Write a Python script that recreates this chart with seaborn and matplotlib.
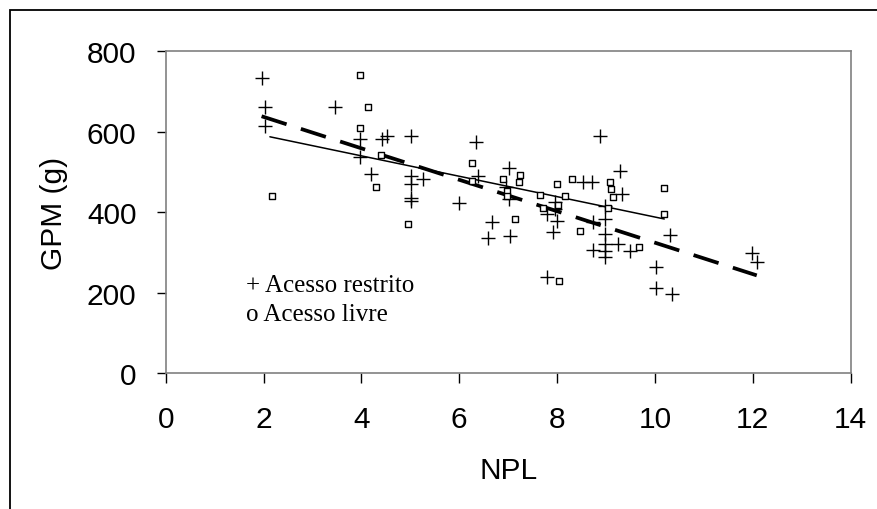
import numpy as np
import pandas as pd
import matplotlib
matplotlib.use('Agg')
import matplotlib.pyplot as plt
import seaborn as sns
from matplotlib.patches import Rectangle

# // acesso restrito (+)
npl_restrito = [1.96, 2.02, 2.02, 3.47, 3.97, 3.97, 4.19, 4.43, 4.52, 5.01,
                5.01, 5.01, 5.01, 5.01, 5.25, 6.0, 6.34, 6.39, 6.59, 6.67,
                6.95, 7.02, 7.02, 7.04, 7.79, 7.8, 7.96, 7.96, 7.99, 7.92,
                8.53, 8.71, 8.73, 8.74, 8.88, 8.98, 8.98, 8.98, 8.98, 8.98,
                8.98, 9.25, 9.28, 9.32, 9.49, 10.02, 10.02, 10.3, 10.35, 11.99,
                12.08]
gpm_restrito = [733, 660, 615, 660, 582, 536, 495, 582, 590, 588,
                490, 470, 434, 428, 482, 423, 575, 490, 336, 376,
                462, 510, 433, 341, 238, 396, 426, 408, 379, 350,
                476, 476, 305, 375, 590, 416, 383, 346, 321, 303,
                288, 321, 501, 445, 303, 263, 211, 343, 197, 298,
                277]

# // acesso livre (o)
npl_livre = [2.17, 3.97, 4.14, 3.97, 4.41, 4.30, 4.95, 6.27, 6.27, 6.9,
             6.97, 6.97, 7.14, 7.22, 7.24, 7.66, 7.71, 8.0, 8.01, 8.04,
             8.17, 8.3, 8.47, 9.09, 9.1, 9.15, 9.04, 9.67, 10.19, 10.19]
gpm_livre = [439, 740, 660, 608, 542, 463, 370, 521, 478, 481,
             453, 441, 383, 476, 493, 442, 410, 470, 417, 230,
             441, 482, 354, 476, 457, 438, 410, 313, 459, 395]

# // linhas de tendencia
trend_restrito_x = [1.96, 12.08]
trend_restrito_y = [638, 243]
trend_livre_x = [2.13, 10.19]
trend_livre_y = [587, 383]

sns.set_style('white')
plt.rcParams['font.family'] = ['Liberation Sans', 'DejaVu Sans']
plt.rcParams['text.color'] = 'black'
plt.rcParams['axes.labelcolor'] = 'black'

fig = plt.figure(figsize=(8.78, 5.10), dpi=100)
ax = fig.add_axes([0.1887, 0.2661, 0.7802, 0.6320])

sns.lineplot(x=trend_restrito_x, y=trend_restrito_y, ax=ax, color='black',
             linewidth=2.7, linestyle=(0, (7, 4)))
sns.lineplot(x=trend_livre_x, y=trend_livre_y, ax=ax, color='black',
             linewidth=1.1)

sns.scatterplot(x=npl_restrito, y=gpm_restrito, ax=ax, marker='+', s=90,
                color='black', edgecolor='black', linewidth=1, zorder=3)
sns.scatterplot(x=npl_livre, y=gpm_livre, ax=ax, marker='s', s=24,
                color='white', edgecolor='black', linewidth=1, zorder=3)

ax.set_xlim(0, 14)
ax.set_ylim(0, 800)
ax.set_xticks(np.arange(0, 15, 2))
ax.set_yticks(np.arange(0, 801, 200))

for sp in ax.spines.values():
    sp.set_visible(True)
    sp.set_color('#808080')
    sp.set_linewidth(1.2)

ax.tick_params(axis='x', direction='out', length=7.5, width=1, color='black',
               labelcolor='black', labelsize=21.5, pad=15, bottom=True)
ax.tick_params(axis='y', direction='out', length=6.5, width=1, color='black',
               labelcolor='black', labelsize=21.5, pad=14.5, left=True)

ax.set_xlabel('NPL', fontsize=21.5, color='black')
ax.set_ylabel('GPM (g)', fontsize=21.5, color='black')
ax.xaxis.set_label_coords(0.5, -0.2575)
ax.yaxis.set_label_coords(-0.143, 0.5)

# // legenda em texto
ax.text(1.64, 205, '+ Acesso restrito', fontsize=18, family='Liberation Serif',
        va='baseline', ha='left', color='black')
ax.text(1.64, 132, 'o Acesso livre', fontsize=18, family='Liberation Serif',
        va='baseline', ha='left', color='black')

# // moldura externa
fig.add_artist(Rectangle((9.7 / 878, -0.1), 1.2, 1.079, transform=fig.transFigure,
                         fill=False, edgecolor='black', linewidth=1.3))

fig.savefig('out.png', dpi=100)
